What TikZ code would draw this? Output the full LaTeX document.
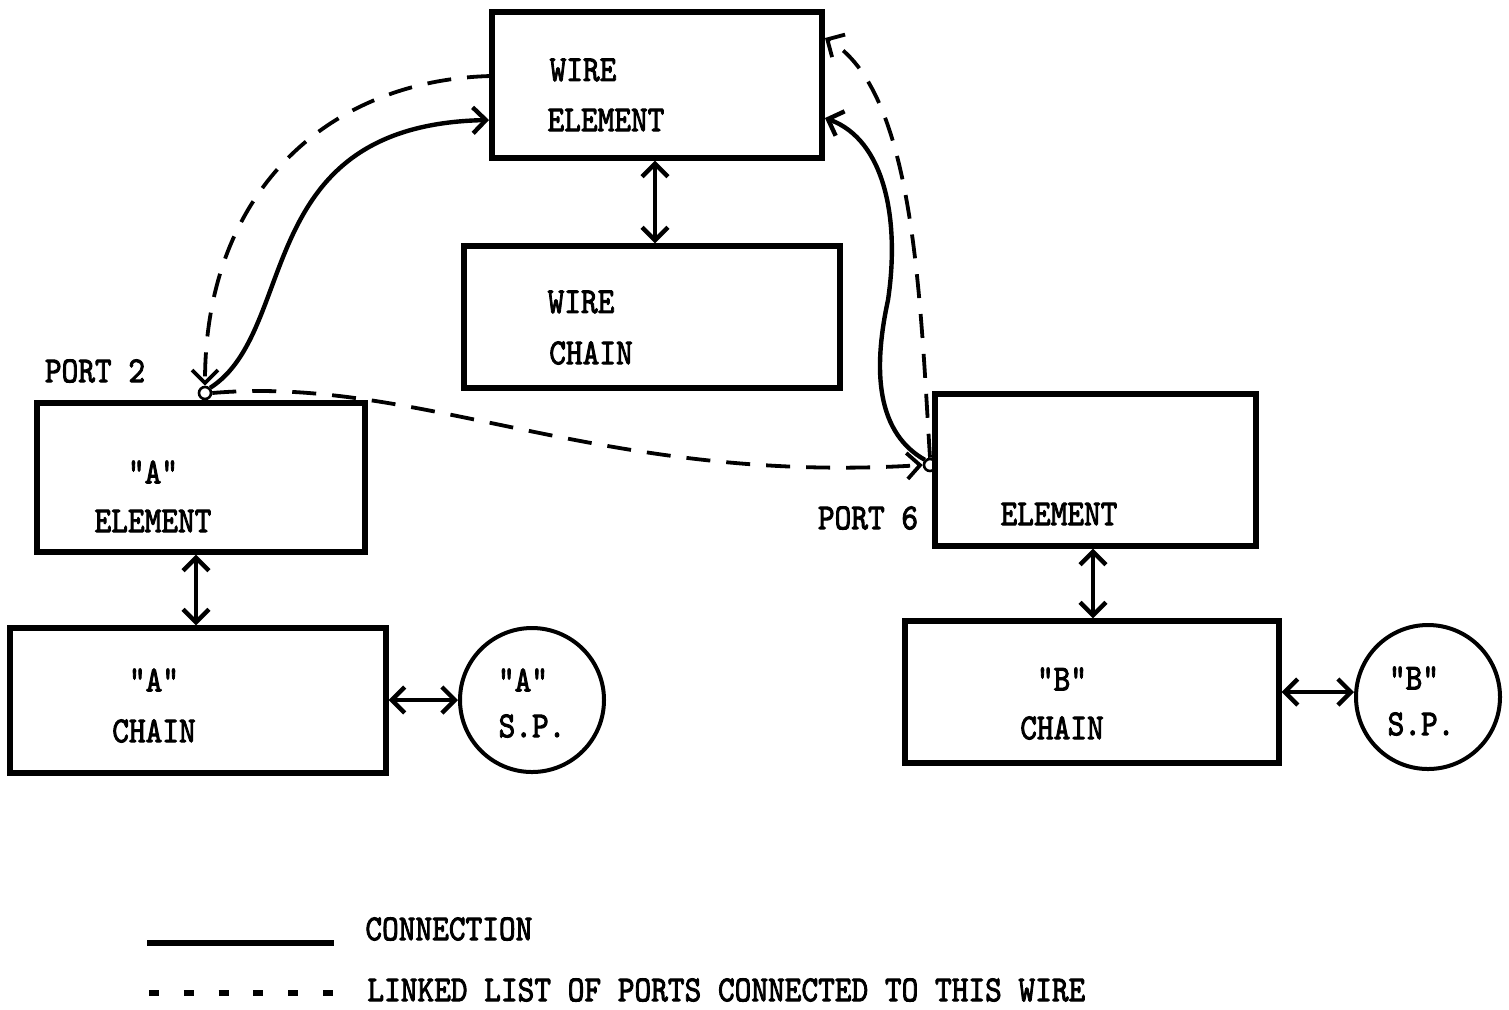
\documentclass[tikz,border=0pt]{standalone}
\usepackage{fontspec}
\usepackage{graphicx}
\newfontfamily\typew[FakeBold=2.6]{lmmono10-regular.otf}
\usetikzlibrary{arrows.meta,calc}
\newcommand\mytall[1]{\scalebox{1}[1.15]{#1}}
\begin{document}
\begin{tikzpicture}[x=0.5pt,y=-0.5pt,
  boxnode/.style={draw, line width=2.6pt, rectangle, inner sep=0pt},
  spnode/.style={draw, line width=2pt, circle, inner sep=0pt, minimum size=72pt},
  portnode/.style={draw, line width=1.3pt, circle, inner sep=0pt, minimum size=6pt},
  lbl/.style={font=\typew\fontsize{15.9}{18}\selectfont, inner sep=0pt},
  tip/.style={arrows={-Straight Barb[length=6.5pt,width=13pt]}},
  dbl/.style={line width=2.2pt, arrows={Straight Barb[length=6.5pt,width=13pt]-Straight Barb[length=6.5pt,width=13pt]}},
  con/.style={line width=2.2pt},
  dsh/.style={line width=1.9pt, dash pattern=on 12pt off 8pt},
  legdsh/.style={line width=3pt, dash pattern=on 5pt off 12.4pt}
]
\useasboundingbox (0,0) rectangle (1509,1009);

% boxes
\node[boxnode, minimum width=165pt, minimum height=73pt] (we) at (657,85) {};
\node[boxnode, minimum width=188pt, minimum height=71pt] (wc) at (652,317) {};
\node[boxnode, minimum width=164pt, minimum height=74.5pt] (ae) at (201,477.5) {};
\node[boxnode, minimum width=188pt, minimum height=72.5pt] (ac) at (198,700.5) {};
\node[spnode] (asp) at (532,700) {};
\node[boxnode, minimum width=160.5pt, minimum height=76pt] (be) at (1095.5,470) {};
\node[boxnode, minimum width=187pt, minimum height=71pt] (bc) at (1092,692) {};
\node[spnode] (bsp) at (1428,697) {};

% ports
\node[portnode] (p2) at (205,393) {};
\node[portnode] (p6) at (930,465) {};

% labels
\node[lbl] (t1) at (583,70) {\mytall{WIRE}};
\node[lbl] (t2) at (606,120) {\mytall{ELEMENT}};
\node[lbl] (t3) at (581,302) {\mytall{WIRE}};
\node[lbl] (t4) at (591,353) {\mytall{CHAIN}};
\node[lbl] (t5) at (95,371) {\mytall{PORT 2}};
\node[lbl] (t6) at (153,472) {\mytall{"A"}};
\node[lbl] (t7) at (153,521) {\mytall{ELEMENT}};
\node[lbl] (t8) at (154,680) {\mytall{"A"}};
\node[lbl] (t9) at (154,731) {\mytall{CHAIN}};
\node[lbl] (t10) at (523,680) {\mytall{"A"}};
\node[lbl] (t11) at (532,726) {\mytall{S.P.}};
\node[lbl] (t12) at (868,518) {\mytall{PORT 6}};
\node[lbl] (t13) at (1059,514) {\mytall{ELEMENT}};
\node[lbl] (t14) at (1062,679) {\mytall{"B"}};
\node[lbl] (t15) at (1062,728) {\mytall{CHAIN}};
\node[lbl] (t16) at (1414,678) {\mytall{"B"}};
\node[lbl] (t17) at (1421,724) {\mytall{S.P.}};
\node[lbl, anchor=west] (t18) at (365,929) {\mytall{CONNECTION}};
\node[lbl, anchor=west] (t19) at (367,990) {\mytall{LINKED LIST OF PORTS CONNECTED TO THIS WIRE}};

% vertical / horizontal double arrows
\draw[dbl] (we.south -| 655,0) -- (wc.north -| 655,0);
\draw[dbl] (ae.south -| 196,0) -- (ac.north -| 196,0);
\draw[dbl] (ac.east |- 0,700) -- (asp.west);
\draw[dbl] (be.south -| 1093,0) -- (bc.north -| 1093,0);
\draw[dbl] (bc.east |- 0,692) -- (bsp.west |- 0,692);

% anchor points on wire element
\coordinate (wl1) at (491,76);
\coordinate (wl2) at (489,120);
\coordinate (wr1) at (825,38);
\coordinate (wr2) at (825,118);

% curves
\draw[dsh, tip] (wl1) .. controls (330,80) and (205,190) .. (p2.north);
\draw[con, tip] (p2.north east) .. controls (300,330) and (250,125) .. (wl2);
\draw[dsh, tip] (p2.east) .. controls (420,375) and (600,485) .. (p6.west);
\draw[con, tip] (p6.north west) .. controls (872,430) and (875,360) .. (888,300) .. controls (900,220) and (885,140) .. (wr2);
\draw[dsh, tip] (p6.north) .. controls (920,300) and (915,90) .. (wr1);

% legend
\coordinate (la) at (147,943);
\coordinate (lb) at (334,943);
\coordinate (lc) at (149,993);
\coordinate (ld) at (334,993);
\draw[line width=3pt] (la) -- (lb);
\draw[legdsh] (lc) -- (ld);
\end{tikzpicture}
\end{document}
